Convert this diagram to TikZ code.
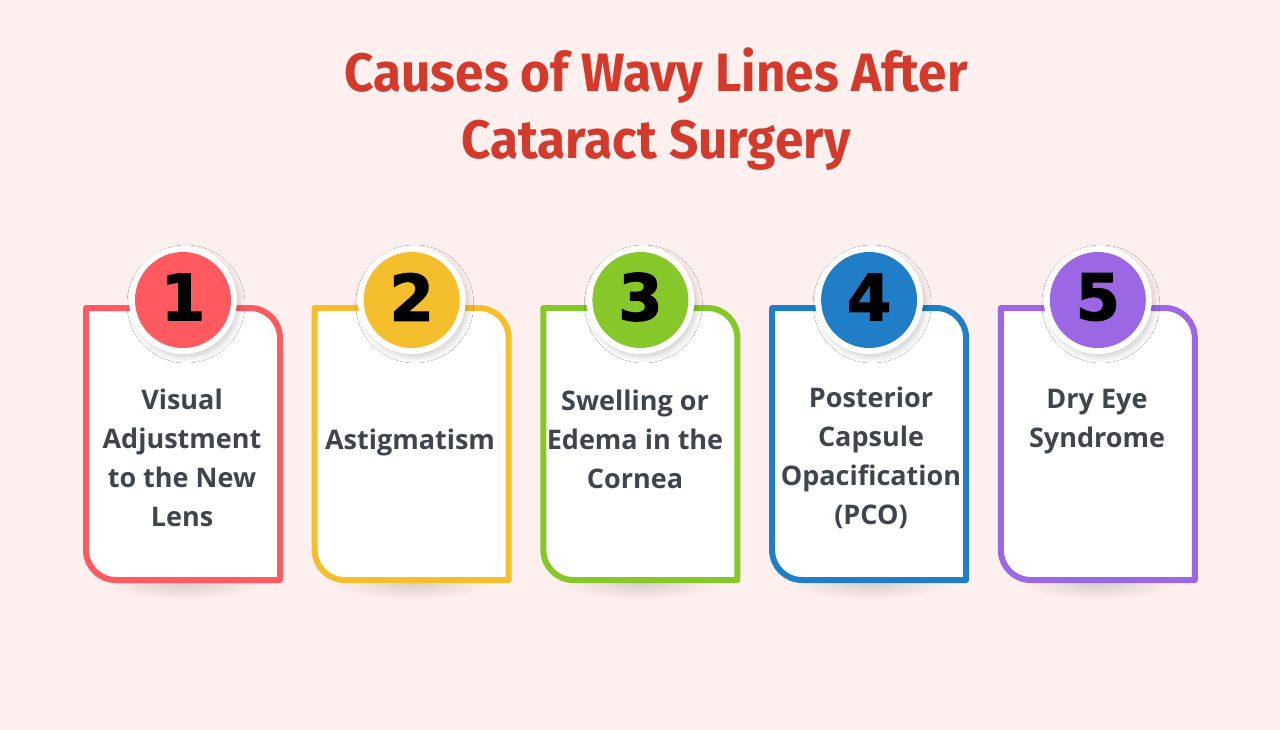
\documentclass[tikz,border=0pt]{standalone}
\usepackage{fontspec}
\setmainfont{Open Sans}
\newfontfamily\titlefont[FakeStretch=0.95]{Fira Sans Bold}
\newfontfamily\numfont[FakeBold=2]{DejaVu Sans Bold}
\usetikzlibrary{shadows.blur}
\definecolor{bg}{HTML}{FEF0EE}
\definecolor{titlered}{HTML}{D33A2B}
\definecolor{txt}{HTML}{3F454D}
\definecolor{shd}{HTML}{D9CFCD}
\definecolor{cA}{HTML}{FF5A5F}
\definecolor{cB}{HTML}{F4BE2C}
\definecolor{cC}{HTML}{86C829}
\definecolor{cD}{HTML}{1F7EC6}
\definecolor{cE}{HTML}{9C67E4}
\tikzset{
  cardtext/.style={font=\fontsize{27}{39}\selectfont\bfseries, text=txt, align=center, inner sep=0pt},
  numtext/.style={font=\numfont\fontsize{64}{64}\selectfont, text=black, inner sep=0pt},
  titletext/.style={font=\titlefont\fontsize{54}{67}\selectfont, text=titlered, align=center, inner sep=0pt}
}
\newcommand{\cardbox}[4]{% #1 left x, #2 colour, #3 name, #4 number
  \begin{scope}[shift={(#1,0)}]
    \shade[inner color=shd, outer color=bg] (100,584) ellipse[x radius=80, y radius=16];
    \path[fill=white]
      (3,308) -- (167,308) arc[start angle=270, end angle=360, radius=30] -- (197,580) -- (33,580)
      arc[start angle=90, end angle=180, radius=30] -- cycle;
    \draw[#2, line width=6pt, line join=round]
      (3,308) -- (167,308) arc[start angle=270, end angle=360, radius=30] -- (197,580) -- (33,580)
      arc[start angle=90, end angle=180, radius=30] -- cycle;
    \node[circle, fill=white, minimum size=108pt, inner sep=0pt,
      blur shadow={shadow xshift=3pt, shadow yshift=-4pt, shadow blur radius=5pt, shadow opacity=16}] (#3) at (100,300) {};
    \node[circle, fill=#2, minimum size=96pt, inner sep=0pt] (#3c) at (100,300) {};
    \node[numtext] (#3n) at (100,297) {#4};
  \end{scope}
}
\begin{document}
\begin{tikzpicture}[x=1pt,y=-1pt]
\fill[bg] (0,0) rectangle (1280,730);
\useasboundingbox (0,0) rectangle (1280,730);
\node[titletext] (title) at (656,109) {Causes of Wavy Lines After\\Cataract Surgery};
\cardbox{83}{cA}{k1}{1}
\cardbox{311.7}{cB}{k2}{2}
\cardbox{540.4}{cC}{k3}{3}
\cardbox{769.1}{cD}{k4}{4}
\cardbox{997.8}{cE}{k5}{5}
\node[cardtext] (t1) at (182,458) {Visual\\Adjustment\\to the New\\Lens};
\node[cardtext] (t2) at (410,442) {Astigmatism};
\node[cardtext] (t3) at (635,439) {Swelling or\\Edema in the\\Cornea};
\node[cardtext] (t4) at (871,458) {Posterior\\Capsule\\Opacification\\(PCO)};
\node[cardtext] (t5) at (1097,422) {Dry Eye\\Syndrome};
\end{tikzpicture}
\end{document}
